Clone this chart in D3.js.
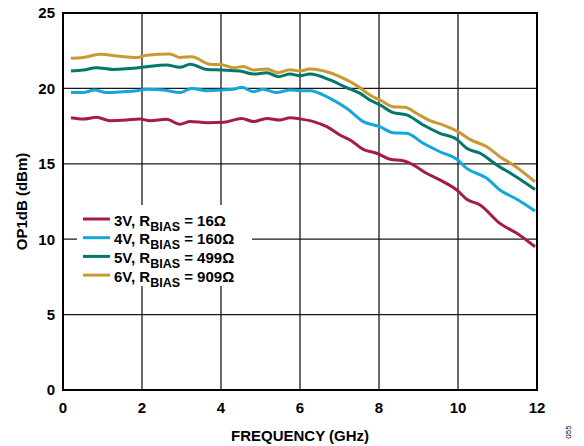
<!DOCTYPE html>
<html>
<head>
<meta charset="utf-8">
<script src="https://cdn.jsdelivr.net/npm/d3@7"></script>
<style>
    body { margin: 0; background: #fff; }
    text { font-family: "Liberation Sans", Arial, sans-serif; font-weight: bold; fill: #000; }
</style>
</head>
<body>
<div id="vis"></div>
<script>
    // values
    var xTicks = [0, 2, 4, 6, 8, 10, 12];
    var yTicks = [0, 5, 10, 15, 20, 25];

    var seriesNames = ["3V", "4V", "5V", "6V"];
    var seriesRbias = ["16Ω", "160Ω", "499Ω", "909Ω"];
    var seriesColors = ["#a51c4b", "#14a7de", "#00786b", "#c99a33"];

    var freq3V = [0.2, 0.51, 0.85, 1.19, 1.61, 1.95, 2.2, 2.62, 2.96, 3.22, 3.64, 4.07, 4.52, 4.82, 5.16, 5.49, 5.75, 6.0, 6.34, 6.68, 7.01, 7.27, 7.6, 7.94, 8.28, 8.61, 8.87, 9.2, 9.54, 9.97, 10.22, 10.56, 11.06, 11.49, 11.95];
    var op3V = [18.06, 17.97, 18.08, 17.86, 17.9, 17.97, 17.86, 17.95, 17.62, 17.8, 17.73, 17.75, 18.01, 17.8, 18.01, 17.9, 18.06, 17.98, 17.8, 17.46, 16.91, 16.58, 15.96, 15.7, 15.3, 15.2, 14.92, 14.37, 13.93, 13.26, 12.65, 12.27, 11.05, 10.39, 9.5];

    var freq4V = [0.2, 0.51, 0.8, 1.1, 1.53, 1.87, 2.12, 2.54, 2.96, 3.26, 3.64, 4.02, 4.31, 4.52, 4.82, 5.07, 5.4, 5.75, 6.0, 6.25, 6.76, 7.18, 7.6, 8.02, 8.36, 8.7, 9.12, 9.54, 9.97, 10.22, 10.73, 11.06, 11.49, 11.95];
    var op4V = [19.72, 19.72, 19.9, 19.72, 19.78, 19.85, 19.94, 19.9, 19.72, 20.0, 19.85, 19.9, 19.94, 20.07, 19.78, 19.94, 19.72, 19.9, 19.85, 19.85, 19.34, 18.68, 17.8, 17.46, 17.06, 17.02, 16.36, 15.8, 15.3, 14.7, 14.04, 13.26, 12.65, 11.87];

    var freq5V = [0.2, 0.51, 0.85, 1.27, 1.78, 2.12, 2.62, 2.96, 3.22, 3.64, 4.02, 4.48, 4.82, 5.16, 5.45, 5.75, 6.0, 6.25, 6.76, 7.18, 7.52, 7.77, 8.03, 8.36, 8.7, 9.12, 9.54, 9.97, 10.22, 10.56, 10.98, 11.4, 11.95];
    var op5V = [21.15, 21.22, 21.37, 21.26, 21.33, 21.44, 21.55, 21.4, 21.6, 21.26, 21.22, 21.15, 20.95, 21.04, 20.78, 20.95, 20.84, 20.95, 20.56, 20.05, 19.67, 19.23, 18.9, 18.39, 18.24, 17.57, 17.02, 16.62, 16.03, 15.7, 14.92, 14.26, 13.3];

    var freq6V = [0.2, 0.51, 0.94, 1.36, 1.87, 2.12, 2.71, 2.96, 3.26, 3.72, 4.02, 4.31, 4.57, 4.82, 5.16, 5.45, 5.75, 6.0, 6.25, 6.76, 7.18, 7.43, 7.77, 8.03, 8.36, 8.66, 8.95, 9.29, 9.63, 10.0, 10.3, 10.73, 11.06, 11.4, 11.95];
    var op6V = [22.0, 22.05, 22.26, 22.15, 22.05, 22.2, 22.28, 22.05, 22.1, 21.6, 21.57, 21.37, 21.45, 21.22, 21.29, 21.04, 21.24, 21.15, 21.29, 21.04, 20.56, 20.2, 19.56, 19.23, 18.79, 18.75, 18.35, 17.86, 17.57, 17.13, 16.62, 16.13, 15.47, 14.92, 13.81];

    var seriesFreq = [freq3V, freq4V, freq5V, freq6V];
    var seriesOp = [op3V, op4V, op5V, op6V];

    var width = 584,
        height = 446;
    var margin = {left: 63, right: 47, top: 13, bottom: 56};

    var svg = d3.select("#vis").append("svg")
        .attr("width", width)
        .attr("height", height);

    var x = d3.scaleLinear()
        .domain([0, 12])
        .range([margin.left, width - margin.right]);

    var y = d3.scaleLinear()
        .domain([0, 25])
        .range([height - margin.bottom, margin.top]);

    // grid
    svg.append("g")
        .selectAll("line.vgrid")
        .data(xTicks.slice(1, -1))
        .enter().append("line")
        .attr("x1", function(d) { return x(d); })
        .attr("x2", function(d) { return x(d); })
        .attr("y1", y(0))
        .attr("y2", y(25))
        .attr("stroke", "#1a1a1a")
        .attr("stroke-width", 1.3);

    svg.append("g")
        .selectAll("line.hgrid")
        .data(yTicks.slice(1, -1))
        .enter().append("line")
        .attr("x1", x(0))
        .attr("x2", x(12))
        .attr("y1", function(d) { return y(d); })
        .attr("y2", function(d) { return y(d); })
        .attr("stroke", "#1a1a1a")
        .attr("stroke-width", 1.3);

    // legend background hides grid
    var legend = svg.append("g")
        .attr("transform", "translate(77,205)");

    legend.append("rect")
        .attr("x", 0)
        .attr("y", 0)
        .attr("width", 175)
        .attr("height", 81)
        .attr("fill", "#fff");

    // lines
    var line = d3.line()
        .x(function(d) { return x(d[0]); })
        .y(function(d) { return y(d[1]); })
        .curve(d3.curveMonotoneX);

    seriesNames.forEach(function(name, i) {
        var pts = seriesFreq[i].map(function(f, j) { return [f, seriesOp[i][j]]; });
        svg.append("path")
            .datum(pts)
            .attr("d", line)
            .attr("fill", "none")
            .attr("stroke", seriesColors[i])
            .attr("stroke-width", 3)
            .attr("stroke-linejoin", "round");
    });

    // frame
    svg.append("rect")
        .attr("x", x(0))
        .attr("y", y(25))
        .attr("width", x(12) - x(0))
        .attr("height", y(0) - y(25))
        .attr("fill", "none")
        .attr("stroke", "#000")
        .attr("stroke-width", 2);

    // tick labels
    svg.append("g")
        .selectAll("text")
        .data(xTicks)
        .enter().append("text")
        .attr("x", function(d) { return x(d); })
        .attr("y", y(0) + 23)
        .attr("text-anchor", "middle")
        .style("font-size", "15px")
        .text(function(d) { return d; });

    svg.append("g")
        .selectAll("text")
        .data(yTicks)
        .enter().append("text")
        .attr("x", x(0) - 8)
        .attr("y", function(d) { return y(d); })
        .attr("dy", "0.36em")
        .attr("text-anchor", "end")
        .style("font-size", "15px")
        .text(function(d) { return d; });

    // axis titles
    svg.append("text")
        .attr("x", (x(0) + x(12)) / 2)
        .attr("y", 441)
        .attr("text-anchor", "middle")
        .style("font-size", "15px")
        .text("FREQUENCY (GHz)");

    svg.append("text")
        .attr("transform", "translate(27," + (y(12.5)) + ") rotate(-90)")
        .attr("text-anchor", "middle")
        .style("font-size", "15px")
        .text("OP1dB (dBm)");

    svg.append("text")
        .attr("transform", "translate(571,432) rotate(-90)")
        .attr("text-anchor", "middle")
        .style("font-size", "8px")
        .style("font-weight", "normal")
        .text("055");

    // legend entries
    var rows = legend.selectAll("g.row")
        .data(seriesNames)
        .enter().append("g")
        .attr("transform", function(d, i) { return "translate(0," + (14 + i * 18.7) + ")"; });

    rows.append("line")
        .attr("x1", 6)
        .attr("x2", 33)
        .attr("y1", 0)
        .attr("y2", 0)
        .attr("stroke", function(d, i) { return seriesColors[i]; })
        .attr("stroke-width", 3);

    var label = rows.append("text")
        .attr("x", 37)
        .attr("y", 6.5)
        .style("font-size", "15px");

    label.append("tspan").text(function(d) { return d + ", R"; });
    label.append("tspan")
        .attr("dy", 5)
        .style("font-size", "12.5px")
        .text("BIAS");
    label.append("tspan")
        .attr("dy", -5)
        .text(function(d, i) { return " = " + seriesRbias[i]; });
</script>
</body>
</html>
